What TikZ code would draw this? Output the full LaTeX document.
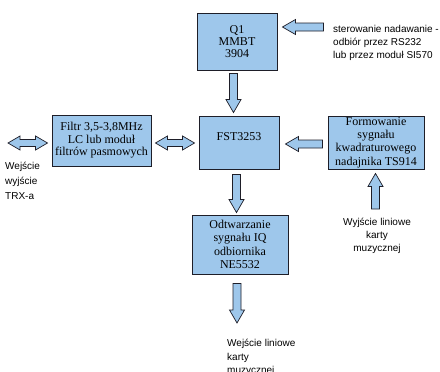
\documentclass[tikz,border=0pt]{standalone}
\usepackage{fontspec}
\setmainfont{Liberation Serif}
\newfontfamily\arialf{Liberation Sans}
\usetikzlibrary{calc}
\definecolor{boxblue}{RGB}{158,199,235}
\definecolor{edgec}{RGB}{30,30,40}
\tikzset{
  blk/.style={draw=edgec, line width=0.9pt, fill=boxblue, inner sep=0pt, align=center},
  boxtext/.style={inner sep=0pt, align=center},
  arr/.style={draw=edgec, line width=0.7pt, fill=boxblue, line join=miter},
  note/.style={inner sep=0pt, font=\arialf\fontsize{10}{13.3}\selectfont},
}
\newcommand\blkarr[2]{%
  \coordinate (ha) at ($(#2)!13pt!(#1)$);
  \draw[arr] ($(#1)!4pt!90:(#2)$) -- ($(ha)!4pt!90:(#2)$) -- ($(ha)!7.5pt!90:(#2)$) -- (#2)
    -- ($(ha)!7.5pt!-90:(#2)$) -- ($(ha)!4pt!-90:(#2)$) -- ($(#1)!4pt!-90:(#2)$) -- cycle;}
\newcommand\dblarr[2]{%
  \coordinate (ha) at ($(#2)!12pt!(#1)$);
  \coordinate (hb) at ($(#1)!12pt!(#2)$);
  \draw[arr] (#1) -- ($(hb)!7pt!90:(#2)$) -- ($(hb)!3.5pt!90:(#2)$) -- ($(ha)!3.5pt!90:(#2)$)
    -- ($(ha)!7pt!90:(#2)$) -- (#2) -- ($(ha)!7pt!-90:(#2)$) -- ($(ha)!3.5pt!-90:(#2)$)
    -- ($(hb)!3.5pt!-90:(#2)$) -- ($(hb)!7pt!-90:(#2)$) -- cycle;}
\begin{document}
\begin{tikzpicture}[x=1pt,y=1pt]
\useasboundingbox (0,0) rectangle (440,-372);
\fill[white] (0,0) rectangle (440,-372);

% boxes
\node[blk, minimum width=80pt, minimum height=57pt, font=\fontsize{12}{11.7}\selectfont] (q1) at (237,-41.5) {Q1\\MMBT\\3904};
\node[blk, minimum width=80pt, minimum height=53pt] (fst) at (239,-142.5) {};
\node[boxtext, font=\fontsize{12}{13}\selectfont] (fsttxt) at (239,-137) {FST3253};
\node[blk, minimum width=99pt, minimum height=51pt, font=\fontsize{12}{12.5}\selectfont] (filtr) at (101.5,-140.5) {Filtr 3,5-3,8MHz\\LC lub moduł\\filtrów pasmowych};
\node[blk, minimum width=96pt, minimum height=53pt, font=\fontsize{12}{13.3}\selectfont] (form) at (376,-142.5) {Formowanie\\sygnału\\kwadraturowego\\nadajnika TS914};
\node[blk, minimum width=96pt, minimum height=59pt, font=\fontsize{12}{13.3}\selectfont] (odt) at (240,-244.5) {Odtwarzanie\\sygnału IQ\\odbiornika\\NE5532};

% texts
\node[note, align=left, anchor=west] (ctrl) at (333,-43) {sterowanie nadawanie -\\odbiór przez RS232\\lub przez moduł SI570};
\node[note, align=left, anchor=west, font=\arialf\fontsize{10}{15}\selectfont] (trx) at (5,-180.5) {Wejście\\wyjście\\TRX-a};
\node[note, align=center] (lin1) at (377,-236) {Wyjście liniowe\\karty\\muzycznej};
\node[note, align=left, anchor=west, font=\arialf\fontsize{10}{13.5}\selectfont] (lin2) at (227,-357.5) {Wejście liniowe\\karty\\muzycznej};

% arrow end points
\coordinate (c1a) at ($(q1.east)+(46,14.5)$);
\coordinate (c1b) at ($(q1.east)+(5,14.5)$);
\coordinate (c2a) at ($(q1.south)+(-3.5,-3)$);
\coordinate (c2b) at ($(fst.north)+(-5.5,3)$);
\coordinate (c3a) at ($(fst.south)+(-2.5,-5)$);
\coordinate (c3b) at ($(odt.north)+(-3.5,2)$);
\coordinate (c4a) at ($(odt.south)+(-3,-9)$);
\coordinate (c4b) at (237,-323);
\coordinate (c5a) at ($(form.west)+(-5,-1.5)$);
\coordinate (c5b) at ($(fst.east)+(6,-1.5)$);
\coordinate (c6a) at (375.5,-209);
\coordinate (c6b) at ($(form.south)+(-0.5,-4)$);
\coordinate (c7a) at (8,-143);
\coordinate (c7b) at ($(filtr.west)+(-4,-2.5)$);
\coordinate (c8a) at ($(filtr.east)+(4,-2.5)$);
\coordinate (c8b) at ($(fst.west)+(-4,-0.5)$);

% arrows
\blkarr{c1a}{c1b}
\blkarr{c2a}{c2b}
\blkarr{c3a}{c3b}
\blkarr{c4a}{c4b}
\blkarr{c5a}{c5b}
\blkarr{c6a}{c6b}
\dblarr{c7a}{c7b}
\dblarr{c8a}{c8b}
\end{tikzpicture}
\end{document}
